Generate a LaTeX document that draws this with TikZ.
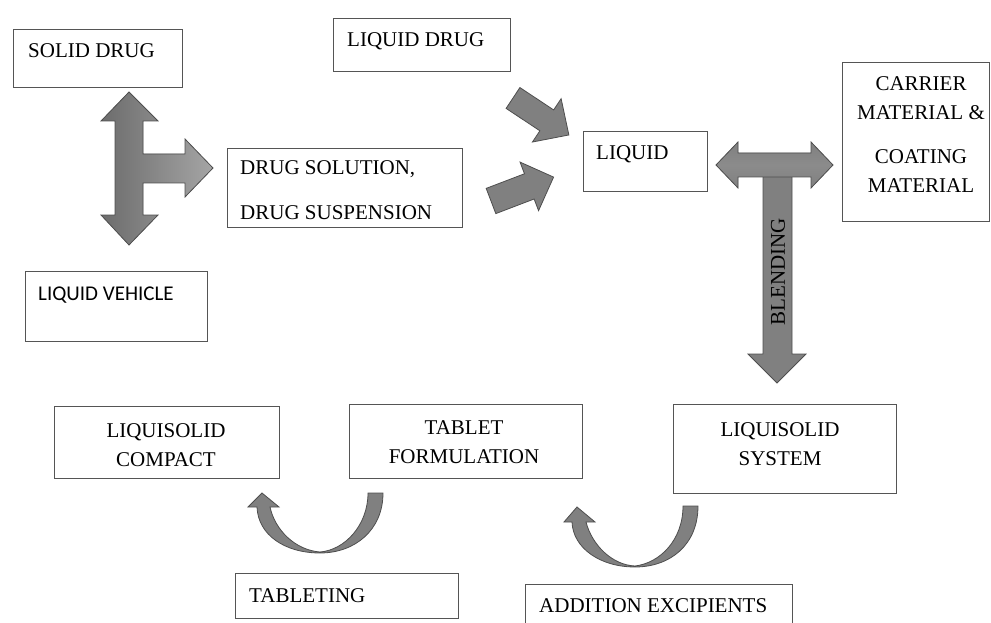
\documentclass[tikz,border=0pt]{standalone}
\usepackage{fontspec}
\setmainfont{Liberation Serif}
\newfontfamily\vehiclefont{Carlito}
\usepackage{tikz}
\usetikzlibrary{positioning, calc}
\definecolor{boxline}{RGB}{85,85,85}
\definecolor{arrowfill}{RGB}{128,128,128}
\definecolor{arrowdark}{RGB}{108,108,108}
\definecolor{arrowlight}{RGB}{165,165,165}
\definecolor{arrowline}{RGB}{78,78,78}
\newcommand{\boxfont}{\fontsize{21}{29}\selectfont}
\tikzset{
  box/.style={rectangle, draw=boxline, line width=1.1pt, fill=white,
    inner sep=0pt, anchor=north west},
  boxtext/.style={font=\boxfont, inner sep=0pt, anchor=base west},
  centertext/.style={font=\boxfont, align=center, inner sep=0pt},
  blockarrow/.style={fill=arrowfill, draw=arrowline, line width=0.8pt,
    line join=miter},
}

\begin{document}
\begin{tikzpicture}[x=1pt, y=-1pt]
  \useasboundingbox (0,0) rectangle (991,623);
  \clip (0,0) rectangle (991,623);

  % Boxes
  \node[box, minimum width=169, minimum height=58] (solid) at (13,29) {};
  \node[box, minimum width=177, minimum height=53] (liqdrug) at (333,18) {};
  \node[box, minimum width=235, minimum height=79] (solution) at (227,148) {};
  \node[box, minimum width=182, minimum height=70] (vehicle) at (25,271) {};
  \node[box, minimum width=124, minimum height=60] (liquid) at (583,131) {};
  \node[box, minimum width=147, minimum height=159] (carrier) at (842,62) {};
  \node[box, minimum width=225, minimum height=72] (compact) at (54,406) {};
  \node[box, minimum width=233, minimum height=74] (tablet) at (349,404) {};
  \node[box, minimum width=223, minimum height=89] (system) at (673,404) {};
  \node[box, minimum width=223, minimum height=45] (tableting) at (235,573) {};
  \node[box, minimum width=267, minimum height=60] (excip) at (525,584) {};

  % Box texts
  \node[boxtext] (solidtxt) at (28,58) {SOLID DRUG};
  \node[boxtext] (liqdrugtxt) at (347,47) {LIQUID DRUG};
  \node[boxtext] (soltxta) at (240,175) {DRUG SOLUTION,};
  \node[boxtext] (soltxtb) at (240,219) {DRUG SUSPENSION};
  \node[boxtext, font=\vehiclefont\fontsize{21}{24}\selectfont]
    (vehicletxt) at (38,300) {LIQUID VEHICLE};
  \node[boxtext] (liquidtxt) at (596,160) {LIQUID};
  \node[boxtext] (tabletingtxt) at (249,602) {TABLETING};
  \node[boxtext] (exciptxt) at (539,612) {ADDITION EXCIPIENTS};
  \node[centertext] (compacttxt) at (166,445.5) {LIQUISOLID\\COMPACT};
  \node[centertext] (tablettxt) at (464,442.5) {TABLET\\FORMULATION};
  \node[centertext] (systemtxt) at (780,444.5) {LIQUISOLID\\SYSTEM};
  \node[centertext] (carriertxt) at (921,134.5)
    {CARRIER\\MATERIAL \&\\[15pt]COATING\\MATERIAL};

  % Three-way arrow
  \draw[blockarrow, left color=arrowdark, right color=arrowlight]
    (129,92) -- (158,121) -- (143,121) -- (143,154) -- (185,154) -- (185,139)
    -- (213,168) -- (185,197) -- (185,183) -- (143,183) -- (143,215)
    -- (158,215) -- (129,245) -- (101,215) -- (115,215) -- (115,121)
    -- (101,121) -- cycle;

  % Arrows into liquid
  \begin{scope}[shift={(513,98)}, rotate=-33.5]
    \draw[blockarrow] (0,-12.5) -- (40.5,-12.5) -- (40.5,-26) -- (67,0)
      -- (40.5,26) -- (40.5,12.5) -- (0,12.5) -- cycle;
  \end{scope}
  \begin{scope}[shift={(491,201)}, rotate=20.9]
    \draw[blockarrow] (0,-13.5) -- (41,-13.5) -- (41,-26) -- (67,0)
      -- (41,26) -- (41,13.5) -- (0,13.5) -- cycle;
  \end{scope}

  % Blending arrow
  \draw[blockarrow] (763,170) -- (792,170) -- (792,354) -- (806,354)
    -- (777,383) -- (748,354) -- (763,354) -- cycle;
  \draw[blockarrow, top color=arrowfill, bottom color=arrowfill,
    middle color=arrowfill!70!arrowlight]
    (716,165) -- (738,142) -- (738,153) -- (811,153) -- (811,142)
    -- (833,165) -- (811,188) -- (811,177) -- (738,177) -- (738,188) -- cycle;
  \node[font=\boxfont, rotate=90, inner sep=0pt] (blendtxt) at (778,272) {BLENDING};

  % Curved arrows
  \draw[blockarrow] (383,493) .. controls (383,530) and (355,553) .. (320,553)
    .. controls (285,553) and (258,535) .. (257,507) -- (248,507) -- (262,493)
    -- (279,507) -- (270,507) .. controls (275,530) and (295,550) .. (320,552)
    .. controls (345,550) and (368,525) .. (368,493) -- cycle;
  \draw[blockarrow] (698,506) .. controls (698,545) and (670,567) .. (635,567)
    .. controls (600,567) and (573,548) .. (572,522) -- (564,522) -- (577,507)
    -- (595,522) -- (586,522) .. controls (592,545) and (612,565) .. (635,566)
    .. controls (660,563) and (683,540) .. (683,506) -- cycle;
\end{tikzpicture}
\end{document}
